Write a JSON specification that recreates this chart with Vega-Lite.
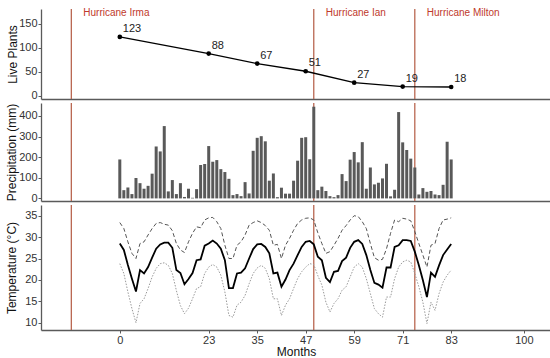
{
"$schema": "https://vega.github.io/schema/vega-lite/v6.json",
"padding": {"left": 5, "top": 7, "right": 1, "bottom": 2},
"config": {
  "view": {"stroke": null},
  "font": "Liberation Sans",
  "scale": {"continuousPadding": 0},
  "axis": {"grid": false, "domainColor": "#5a5a5a", "domainWidth": 1.3, "tickColor": "#5a5a5a", "tickSize": 3, "labelFontSize": 11, "labelColor": "#333333", "titleFontSize": 12, "titleFontWeight": "normal", "titleColor": "#111111", "labelPadding": 1, "labelOverlap": false, "labelFlush": false}
},
"datasets": {
  "hurr": [
    {"name": "Hurricane Irma", "month": -12},
    {"name": "Hurricane Ian", "month": 48},
    {"name": "Hurricane Milton", "month": 73}
  ],
  "plants": [
    {"month": 0, "plants": 123},
    {"month": 22, "plants": 88},
    {"month": 34, "plants": 67},
    {"month": 46, "plants": 51},
    {"month": 58, "plants": 27},
    {"month": 70, "plants": 19},
    {"month": 82, "plants": 18}
  ],
  "monthly": [
    {"month":0,"precip":189,"tmax":33.4,"tmean":28.5,"tmin":23.8},
    {"month":1,"precip":40,"tmax":32.0,"tmean":27.0,"tmin":21.5},
    {"month":2,"precip":53,"tmax":28.9,"tmean":23.5,"tmin":17.2},
    {"month":3,"precip":21,"tmax":26.2,"tmean":20.3,"tmin":13.3},
    {"month":4,"precip":99,"tmax":25.0,"tmean":17.3,"tmin":10.0},
    {"month":5,"precip":74,"tmax":28.5,"tmean":22.3,"tmin":14.5},
    {"month":6,"precip":47,"tmax":28.9,"tmean":21.5,"tmin":15.6},
    {"month":7,"precip":61,"tmax":30.5,"tmean":23.0,"tmin":18.0},
    {"month":8,"precip":120,"tmax":32.0,"tmean":25.2,"tmin":20.7},
    {"month":9,"precip":252,"tmax":33.2,"tmean":27.3,"tmin":22.7},
    {"month":10,"precip":228,"tmax":33.4,"tmean":28.3,"tmin":23.8},
    {"month":11,"precip":351,"tmax":33.0,"tmean":28.7,"tmin":24.0},
    {"month":12,"precip":34,"tmax":32.8,"tmean":28.7,"tmin":23.4},
    {"month":13,"precip":89,"tmax":31.5,"tmean":27.5,"tmin":21.5},
    {"month":14,"precip":21,"tmax":28.5,"tmean":22.3,"tmin":17.5},
    {"month":15,"precip":74,"tmax":27.0,"tmean":21.6,"tmin":14.0},
    {"month":16,"precip":7,"tmax":26.4,"tmean":19.0,"tmin":12.1},
    {"month":17,"precip":47,"tmax":28.9,"tmean":20.2,"tmin":13.4},
    {"month":18,"precip":3,"tmax":30.9,"tmean":21.6,"tmin":15.6},
    {"month":19,"precip":45,"tmax":32.4,"tmean":24.6,"tmin":18.0},
    {"month":20,"precip":162,"tmax":32.2,"tmean":24.8,"tmin":18.4},
    {"month":21,"precip":167,"tmax":34.0,"tmean":28.0,"tmin":21.5},
    {"month":22,"precip":254,"tmax":34.5,"tmean":28.5,"tmin":23.0},
    {"month":23,"precip":178,"tmax":34.6,"tmean":29.2,"tmin":23.6},
    {"month":24,"precip":186,"tmax":33.6,"tmean":28.5,"tmin":23.0},
    {"month":25,"precip":142,"tmax":32.0,"tmean":27.3,"tmin":21.1},
    {"month":26,"precip":128,"tmax":28.1,"tmean":24.6,"tmin":17.2},
    {"month":27,"precip":95,"tmax":25.0,"tmean":18.1,"tmin":11.7},
    {"month":28,"precip":16,"tmax":25.0,"tmean":18.1,"tmin":11.3},
    {"month":29,"precip":21,"tmax":28.1,"tmean":21.5,"tmin":14.1},
    {"month":30,"precip":11,"tmax":28.9,"tmean":21.7,"tmin":14.8},
    {"month":31,"precip":79,"tmax":30.5,"tmean":22.7,"tmin":16.4},
    {"month":32,"precip":24,"tmax":32.8,"tmean":25.0,"tmin":19.1},
    {"month":33,"precip":231,"tmax":33.4,"tmean":27.2,"tmin":21.5},
    {"month":34,"precip":294,"tmax":33.8,"tmean":28.3,"tmin":22.8},
    {"month":35,"precip":302,"tmax":33.4,"tmean":28.4,"tmin":23.4},
    {"month":36,"precip":277,"tmax":32.7,"tmean":27.7,"tmin":22.7},
    {"month":37,"precip":86,"tmax":31.6,"tmean":26.2,"tmin":20.3},
    {"month":38,"precip":121,"tmax":28.1,"tmean":21.5,"tmin":15.6},
    {"month":39,"precip":6,"tmax":28.3,"tmean":21.7,"tmin":15.6},
    {"month":40,"precip":52,"tmax":25.0,"tmean":18.4,"tmin":11.7},
    {"month":41,"precip":23,"tmax":28.1,"tmean":20.1,"tmin":14.1},
    {"month":42,"precip":23,"tmax":29.7,"tmean":22.3,"tmin":15.6},
    {"month":43,"precip":86,"tmax":31.6,"tmean":23.8,"tmin":18.0},
    {"month":44,"precip":183,"tmax":33.2,"tmean":25.8,"tmin":20.3},
    {"month":45,"precip":294,"tmax":34.0,"tmean":27.7,"tmin":21.9},
    {"month":46,"precip":297,"tmax":34.4,"tmean":28.9,"tmin":23.0},
    {"month":47,"precip":190,"tmax":34.5,"tmean":29.1,"tmin":23.8},
    {"month":48,"precip":445,"tmax":34.0,"tmean":28.3,"tmin":23.6},
    {"month":49,"precip":40,"tmax":31.0,"tmean":25.4,"tmin":21.0},
    {"month":50,"precip":57,"tmax":28.5,"tmean":24.6,"tmin":18.8},
    {"month":51,"precip":36,"tmax":26.2,"tmean":20.5,"tmin":14.8},
    {"month":52,"precip":11,"tmax":26.6,"tmean":19.5,"tmin":12.5},
    {"month":53,"precip":6,"tmax":28.1,"tmean":21.9,"tmin":14.5},
    {"month":54,"precip":16,"tmax":29.7,"tmean":22.1,"tmin":15.6},
    {"month":55,"precip":118,"tmax":31.6,"tmean":24.4,"tmin":17.6},
    {"month":56,"precip":84,"tmax":32.7,"tmean":25.2,"tmin":18.4},
    {"month":57,"precip":188,"tmax":34.0,"tmean":27.5,"tmin":20.7},
    {"month":58,"precip":225,"tmax":35.0,"tmean":28.9,"tmin":23.0},
    {"month":59,"precip":175,"tmax":34.8,"tmean":29.3,"tmin":23.8},
    {"month":60,"precip":273,"tmax":33.6,"tmean":28.4,"tmin":23.0},
    {"month":61,"precip":47,"tmax":32.0,"tmean":25.8,"tmin":20.3},
    {"month":62,"precip":150,"tmax":28.5,"tmean":22.3,"tmin":16.8},
    {"month":63,"precip":68,"tmax":25.2,"tmean":19.3,"tmin":13.3},
    {"month":64,"precip":76,"tmax":24.6,"tmean":18.9,"tmin":12.1},
    {"month":65,"precip":97,"tmax":24.8,"tmean":18.2,"tmin":11.3},
    {"month":66,"precip":168,"tmax":27.3,"tmean":22.9,"tmin":16.0},
    {"month":67,"precip":10,"tmax":30.9,"tmean":22.9,"tmin":16.0},
    {"month":68,"precip":42,"tmax":34.0,"tmean":27.7,"tmin":20.3},
    {"month":69,"precip":419,"tmax":33.6,"tmean":28.1,"tmin":23.0},
    {"month":70,"precip":272,"tmax":34.4,"tmean":29.3,"tmin":24.2},
    {"month":71,"precip":235,"tmax":34.2,"tmean":29.3,"tmin":24.6},
    {"month":72,"precip":193,"tmax":33.8,"tmean":29.1,"tmin":24.2},
    {"month":73,"precip":150,"tmax":31.3,"tmean":26.6,"tmin":21.5},
    {"month":74,"precip":19,"tmax":28.5,"tmean":23.4,"tmin":18.4},
    {"month":75,"precip":50,"tmax":25.8,"tmean":19.9,"tmin":14.8},
    {"month":76,"precip":32,"tmax":23.0,"tmean":16.0,"tmin":9.8},
    {"month":77,"precip":36,"tmax":28.1,"tmean":21.7,"tmin":14.8},
    {"month":78,"precip":19,"tmax":28.5,"tmean":20.7,"tmin":12.9},
    {"month":79,"precip":16,"tmax":32.0,"tmean":23.4,"tmin":16.8},
    {"month":80,"precip":66,"tmax":34.0,"tmean":25.8,"tmin":19.5},
    {"month":81,"precip":275,"tmax":34.2,"tmean":27.1,"tmin":21.1},
    {"month":82,"precip":189,"tmax":34.5,"tmean":28.4,"tmin":22.3}
  ]
},
"spacing": 4,
"bounds": "flush",
"vconcat": [
  {
    "width": 510,
    "height": 90,
    "layer": [
      {
        "data": {"name": "hurr"},
        "mark": {"type": "rule", "color": "#b35a42", "strokeWidth": 1.2},
        "encoding": {
          "x": {"field": "month", "type": "quantitative", "scale": {"domain": [-19.5, 106.7], "nice": false, "zero": false}, "axis": {"labels": false, "ticks": false, "title": null, "domain": true}}
        }
      },
      {
        "data": {"name": "plants"},
        "mark": {"type": "line", "color": "#000000", "strokeWidth": 1.3},
        "encoding": {
          "x": {"field": "month", "type": "quantitative"},
          "y": {"field": "plants", "type": "quantitative", "scale": {"domain": [-7.1, 181.4], "nice": false, "zero": false}, "axis": {"values": [0, 50, 100, 150], "title": "Live Plants", "titlePadding": -1, "labelOverlap": false}}
        }
      },
      {
        "data": {"name": "plants"},
        "mark": {"type": "point", "filled": true, "color": "#000000", "size": 22, "opacity": 1},
        "encoding": {
          "x": {"field": "month", "type": "quantitative"},
          "y": {"field": "plants", "type": "quantitative", "axis": {"values": [0, 50, 100, 150], "title": "Live Plants", "titlePadding": -1, "labelOverlap": false}}
        }
      },
      {
        "data": {"name": "plants"},
        "mark": {"type": "text", "align": "left", "baseline": "middle", "dx": 3, "dy": -8, "fontSize": 11, "color": "#222222"},
        "encoding": {
          "x": {"field": "month", "type": "quantitative"},
          "y": {"field": "plants", "type": "quantitative", "axis": {"values": [0, 50, 100, 150], "title": "Live Plants", "titlePadding": -1, "labelOverlap": false}},
          "text": {"field": "plants"}
        }
      },
      {
        "data": {"name": "hurr"},
        "mark": {"type": "text", "align": "left", "baseline": "middle", "dx": 12, "fontSize": 10, "color": "#c0392b"},
        "encoding": {
          "x": {"field": "month", "type": "quantitative"},
          "y": {"datum": 174, "type": "quantitative", "axis": {"values": [0, 50, 100, 150], "title": "Live Plants", "titlePadding": -1, "labelOverlap": false}},
          "text": {"field": "name"}
        }
      }
    ]
  },
  {
    "width": 510,
    "height": 98,
    "layer": [
      {
        "data": {"name": "hurr"},
        "mark": {"type": "rule", "color": "#b35a42", "strokeWidth": 1.2},
        "encoding": {
          "x": {"field": "month", "type": "quantitative", "scale": {"domain": [-19.5, 106.7], "nice": false, "zero": false, "padding": 0}, "axis": {"labels": false, "ticks": false, "title": null, "domain": true}}
        }
      },
      {
        "data": {"name": "monthly"},
        "mark": {"type": "bar", "size": 3, "color": "#595959"},
        "encoding": {
          "x": {"field": "month", "type": "quantitative"},
          "y": {"field": "precip", "type": "quantitative", "scale": {"domain": [-12.6, 463], "nice": false, "zero": false}, "axis": {"values": [0, 100, 200, 300, 400], "title": "Precipitation (mm)", "titlePadding": 0, "labelOverlap": false}}
        }
      }
    ]
  },
  {
    "width": 510,
    "height": 125,
    "layer": [
      {
        "data": {"name": "hurr"},
        "mark": {"type": "rule", "color": "#b35a42", "strokeWidth": 1.2},
        "encoding": {
          "x": {"field": "month", "type": "quantitative", "scale": {"domain": [-19.5, 106.7], "nice": false, "zero": false}, "axis": {"values": [0, 22, 34, 46, 58, 70, 82, 100], "labelExpr": "datum.value == 0 || datum.value == 100 ? datum.label : '' + (datum.value + 1)", "title": "Months", "titlePadding": 1, "labelOverlap": false}}
        }
      },
      {
        "data": {"name": "monthly"},
        "mark": {"type": "line", "color": "#555555", "strokeWidth": 1, "strokeDash": [4, 2.5]},
        "encoding": {
          "x": {"field": "month", "type": "quantitative"},
          "y": {"field": "tmax", "type": "quantitative", "scale": {"domain": [8.3, 37.5], "nice": false, "zero": false}, "axis": {"values": [10, 15, 20, 25, 30, 35], "title": "Temperature (°C)", "titlePadding": 6, "labelOverlap": false}}
        }
      },
      {
        "data": {"name": "monthly"},
        "mark": {"type": "line", "color": "#9a9a9a", "strokeWidth": 1, "strokeDash": [1.5, 1.5]},
        "encoding": {
          "x": {"field": "month", "type": "quantitative"},
          "y": {"field": "tmin", "type": "quantitative", "axis": {"values": [10, 15, 20, 25, 30, 35], "title": "Temperature (°C)", "titlePadding": 6, "labelOverlap": false}}
        }
      },
      {
        "data": {"name": "monthly"},
        "mark": {"type": "line", "color": "#000000", "strokeWidth": 1.8},
        "encoding": {
          "x": {"field": "month", "type": "quantitative"},
          "y": {"field": "tmean", "type": "quantitative", "axis": {"values": [10, 15, 20, 25, 30, 35], "title": "Temperature (°C)", "titlePadding": 6, "labelOverlap": false}}
        }
      }
    ]
  }
]
}
